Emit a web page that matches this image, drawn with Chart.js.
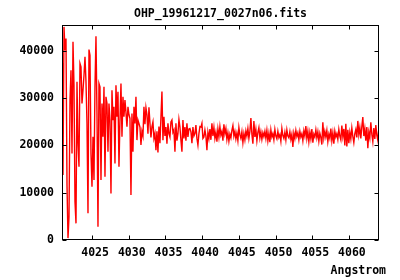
<!DOCTYPE html>
<html lang="en">
<head>
<meta charset="UTF-8">
<title>OHP_19961217_0027n06.fits</title>
<script src="https://cdn.jsdelivr.net/npm/chart.js"></script>
<style>
  html, body { margin: 0; padding: 0; background: #fff; }
</style>
</head>
<body>
<canvas id="spec" width="400" height="280"></canvas>
<script>
// wavelength axis as given in the fits header: start + step per pixel
const lambdaStart = 4020.9;
const lambdaStep = 0.1362;

// flux per pixel
const flux = [
  37350, 13740, 45100, 40170, 42630, 11630, 400, 4930, 29600, 35940,
  18320, 41930, 32770, 8100, 3520, 33470, 20430, 15500, 37350, 36640,
  28890, 31710, 34880, 38760, 33470, 24660, 5640, 40310, 39110, 18320,
  11270, 21840, 12680, 32410, 43130, 26780, 2820, 33120, 32410, 12680,
  28890, 21840, 32410, 13390, 30300, 28890, 18670, 28890, 25370, 9860,
  31710, 25370, 28190, 16210, 32770, 26070, 31360, 15500, 25370, 33120,
  21840, 30300, 26070, 29600, 27000, 23960, 28190, 26500, 25720, 9510,
  26780, 18670, 28190, 24660, 30300, 21140, 25370, 24660,
  23900, 20100, 23000, 22000, 28200, 24500, 28000, 26500, 22500, 28100,
  24700, 21700, 24000, 25000, 21500, 22500, 19000, 23000, 18500, 24000,
  20500, 26000, 31400, 21100, 26100, 22000, 23900, 20400, 24700, 22500,
  21800, 25000, 25400, 22800, 23300, 18700, 24700, 21000, 22500, 25500,
  23900, 21100, 18700, 25400, 21500, 23900, 21000, 24700, 21800, 23500,
  23600, 22900, 20500, 23900, 22000, 22500, 24300, 21500, 20100, 22500,
  24000, 23900, 24700, 21500, 21800, 23300,
  22000, 19000, 22800, 21500, 23500, 21200, 24700, 22000, 23800, 21500,
  22800, 20800, 23500, 21800, 24000, 22200, 23000, 21000, 24500, 22500,
  23600, 21300, 22700, 20900, 22400, 21600, 23200, 24200, 22000, 23000,
  21400, 22600, 21000, 23800, 22300, 21500, 22900, 20600, 22500, 21200,
  23100, 22000, 23600, 21500, 23000, 25800, 22400, 20400, 25200, 21800,
  23400, 21000, 22800, 23800, 21600, 22900, 21300, 22700, 21900, 23000,
  21500, 23200, 21000, 22600, 20700, 23300, 21800, 22500, 21200, 23400,
  22000, 21400, 23000, 21700, 22300, 20900, 23600, 22100, 21500, 22800,
  21200, 23300, 22000, 21600, 22900, 21300, 22400, 19700, 22600, 21500,
  23200, 21900, 22700, 21200, 23000, 21800, 22500, 21000, 23100, 22000,
  24100, 21500, 23000, 20800, 22800, 21400, 23500, 20600, 22400, 21800,
  23300, 21600, 22900, 20900, 22600, 21700, 20200, 24900, 21600, 23000,
  21800, 23200, 20800, 22400, 21500, 23600, 21000, 22700, 20400, 23000,
  21800, 22500, 21300, 23400, 22000, 21200, 24200, 21900, 23500, 20000,
  24600, 19800, 23300, 20500, 22800, 21400, 23700, 21900, 20600, 22500,
  23400, 21700, 25200, 22300, 23800, 21500, 24000, 26000, 22000, 23600,
  21000, 23900, 19400, 22800, 21600, 24900, 22400, 20800, 23700, 21400,
  24300, 22200, 21100, 23500, 22600
];

const xTicks = [4025, 4030, 4035, 4040, 4045, 4050, 4055, 4060];
const yTicks = [0, 10000, 20000, 30000, 40000];
const xRange = [4020.9, 4064.1];
const yRange = [0, 45500];
const title = 'OHP_19961217_0027n06.fits';
const xLabel = 'Angstrom';

const fontCss = 'bold 11.5px "DejaVu Sans Mono", monospace';
const font = { family: '"DejaVu Sans Mono", monospace', size: 11.5, weight: 'bold' };

const points = flux.map((f, i) => ({ x: lambdaStart + i * lambdaStep, y: f }));

// gnuplot style box with inward ticks on all four sides, plus title and axis label
const frame = {
  id: 'frame',
  afterDatasetsDraw(chart) {
    const { ctx, chartArea: a, scales: { x, y } } = chart;
    const L = Math.round(a.left) + 0.5, R = Math.round(a.right) - 0.5;
    const T = Math.round(a.top) + 0.5, B = Math.round(a.bottom) - 0.5;
    ctx.save();
    ctx.strokeStyle = '#000';
    ctx.lineWidth = 1;
    ctx.strokeRect(L, T, R - L, B - T);
    ctx.beginPath();
    xTicks.forEach(v => {
      const px = Math.round(x.getPixelForValue(v)) + 0.5;
      ctx.moveTo(px, B); ctx.lineTo(px, B - 4);
      ctx.moveTo(px, T); ctx.lineTo(px, T + 4);
    });
    yTicks.forEach(v => {
      const py = Math.round(y.getPixelForValue(v)) + 0.5;
      ctx.moveTo(L, py); ctx.lineTo(L + 4, py);
      ctx.moveTo(R, py); ctx.lineTo(R - 4, py);
    });
    ctx.stroke();
    ctx.fillStyle = '#000';
    ctx.font = fontCss;
    ctx.textBaseline = 'middle';
    ctx.textAlign = 'center';
    ctx.fillText(title, (a.left + a.right) / 2, 14.5);
    ctx.textAlign = 'right';
    ctx.fillText(xLabel, 386, 271);
    ctx.restore();
  }
};

new Chart(document.getElementById('spec'), {
  type: 'line',
  data: {
    datasets: [{
      data: points,
      borderColor: '#ff0000',
      borderWidth: 1.4,
      pointRadius: 0,
      tension: 0,
      fill: false
    }]
  },
  options: {
    responsive: false,
    animation: false,
    layout: { padding: { top: 25, right: 21 } },
    plugins: {
      legend: { display: false },
      tooltip: { enabled: false },
      title: { display: false }
    },
    scales: {
      x: {
        type: 'linear',
        min: xRange[0],
        max: xRange[1],
        afterBuildTicks: s => { s.ticks = xTicks.map(v => ({ value: v })); },
        afterFit: s => { s.height = 40; },
        grid: { display: false, drawTicks: false, tickLength: 0 },
        border: { display: false },
        ticks: {
          color: '#000', font: font, padding: 6, labelOffset: 3,
          maxRotation: 0, autoSkip: false,
          callback: v => String(v)
        }
      },
      y: {
        min: yRange[0],
        max: yRange[1],
        afterBuildTicks: s => { s.ticks = yTicks.map(v => ({ value: v })); },
        afterFit: s => { s.width = 62; },
        grid: { display: false, drawTicks: false, tickLength: 0 },
        border: { display: false },
        ticks: { color: '#000', font: font, padding: 8, callback: v => String(v) }
      }
    }
  },
  plugins: [frame]
});
</script>
</body>
</html>
